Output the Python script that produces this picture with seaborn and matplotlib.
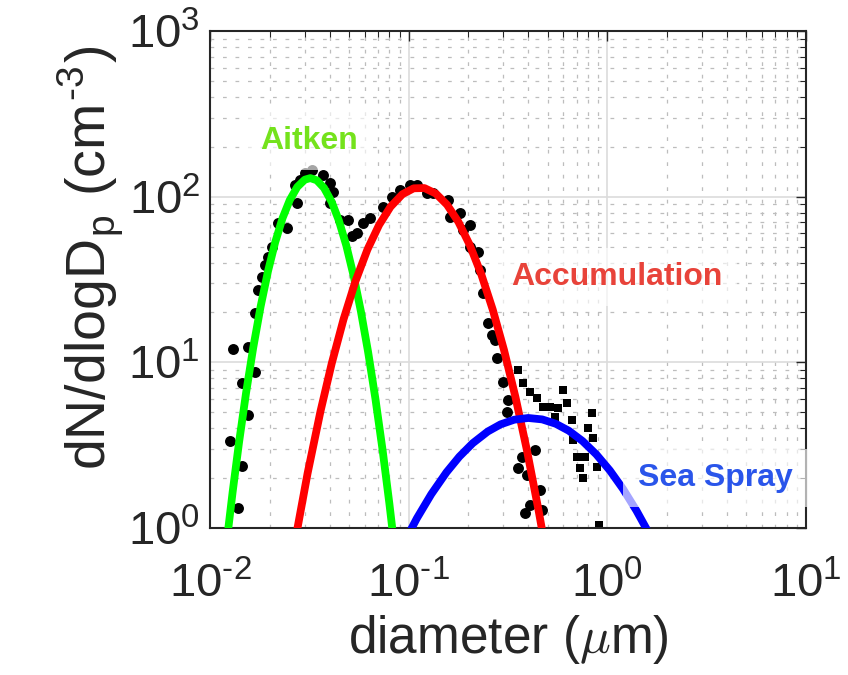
import matplotlib
matplotlib.use("Agg")
import matplotlib.pyplot as plt
import seaborn as sns
import pandas as pd
from matplotlib.ticker import LogLocator, NullFormatter, FuncFormatter
import math

# Measured number size distribution (mobility sizer: circles, optical counter: squares)
circle_diam = [0.0126, 0.01305, 0.0138, 0.0145, 0.0145, 0.0155, 0.0155, 0.0168, 0.0168,
               0.0174, 0.0183, 0.0189, 0.0196, 0.0205, 0.0220, 0.0244, 0.0268, 0.0274,
               0.0284, 0.0301, 0.0326, 0.0371, 0.0402, 0.0402, 0.0416, 0.0451, 0.0495,
               0.0520, 0.0549, 0.0589, 0.0639, 0.0743, 0.0824, 0.0904, 0.1015, 0.1101,
               0.1236, 0.1325, 0.1577, 0.1614, 0.1812, 0.1876, 0.2035, 0.2035, 0.2233,
               0.2285, 0.2365, 0.2506, 0.2625, 0.2718, 0.2782, 0.2983, 0.3124, 0.3160,
               0.3549, 0.3717, 0.3849, 0.3938, 0.4078, 0.4322, 0.4579, 0.4688]
circle_conc = [3.35, 12.0, 1.32, 2.37, 7.5, 4.81, 12.4, 8.74, 19.8,
               27.3, 32.7, 38.7, 43.2, 49.6, 69.3, 64.6, 117.5, 91.5,
               126.0, 138.8, 144.7, 135.0, 120.8, 91.5, 106.6, 72.2, 72.2,
               57.8, 60.3, 69.3, 74.3, 86.5, 99.5, 109.6, 117.5, 117.5,
               105.1, 105.1, 95.4, 75.3, 79.6, 62.9, 67.4, 49.6, 46.3,
               36.1, 26.2, 17.3, 14.6, 13.6, 10.6, 7.61, 5.01, 5.92,
               2.30, 2.68, 1.23, 2.09, 1.38, 2.96, 1.70, 1.28]

square_diam = [0.3549, 0.3760, 0.4078, 0.4420, 0.4741, 0.5141, 0.5448, 0.5642, 0.5979,
               0.6262, 0.6635, 0.6713, 0.7030, 0.7278, 0.7539, 0.7716, 0.7987, 0.8366,
               0.8462, 0.8863, 0.9073]
square_conc = [8.98, 7.50, 6.62, 6.09, 5.37, 5.37, 4.68, 5.30, 6.80,
               5.68, 4.48, 3.40, 2.68, 2.30, 2.00, 2.68, 4.01, 4.94,
               3.49, 2.33, 1.04]

# Fitted lognormal modes, tabulated
aitken_diam = [0.0121, 0.0130, 0.0140, 0.0152, 0.0165, 0.0180, 0.0196, 0.0213, 0.0232,
               0.0252, 0.0275, 0.0300, 0.0320, 0.0345, 0.0375, 0.0410, 0.0445, 0.0485,
               0.0530, 0.0575, 0.0625, 0.0680, 0.0740, 0.0800, 0.0860]
aitken_conc = [0.797, 1.644, 3.273, 6.56, 12.21, 21.81, 35.55, 53.1, 74.3,
               95.2, 114.4, 126.6, 129.4, 125.5, 112.9, 92.9, 72.0, 50.9,
               32.8, 20.3, 11.56, 6.05, 2.93, 1.40, 0.668]

accum_diam = [0.0265, 0.031, 0.036, 0.041, 0.047, 0.054, 0.062, 0.071, 0.081, 0.093,
              0.106, 0.120, 0.137, 0.156, 0.178, 0.203, 0.232, 0.265, 0.302, 0.345,
              0.394, 0.450, 0.490]
accum_conc = [0.772, 2.138, 5.065, 9.84, 18.15, 30.9, 47.9, 67.5, 86.8, 103.4,
              112.3, 112.7, 104.4, 89.4, 70.4, 51.1, 34.0, 20.8, 11.86, 6.15,
              2.94, 1.29, 0.731]

spray_diam = [0.094, 0.11, 0.13, 0.155, 0.18, 0.21, 0.25, 0.29, 0.34, 0.40,
              0.47, 0.55, 0.64, 0.75, 0.88, 1.03, 1.2, 1.4, 1.6, 1.74]
spray_conc = [0.799, 1.144, 1.600, 2.168, 2.697, 3.247, 3.821, 4.22, 4.505, 4.613,
              4.523, 4.257, 3.863, 3.349, 2.781, 2.223, 1.719, 1.275, 0.954, 0.783]

# Mode labels: text, diameter, concentration (baseline), colour
mode_labels = ["Aitken", "Accumulation", "Sea Spray"]
label_diam = [0.0317, 1.12, 3.48]
label_conc = [193.8, 29.3, 1.79]
label_colors = ["#74e21c", "#e8433a", "#2a55ea"]

sns.set_theme(style="white")
plt.rcParams["font.family"] = ["Liberation Sans", "DejaVu Sans"]
plt.rcParams["mathtext.fontset"] = "cm"
dark = "#262626"
HYPHEN = "\u2010"


def decade_label(value, pos):
    exp = int(round(math.log10(value)))
    s = str(abs(exp))
    if exp < 0:
        s = HYPHEN + s
    return r"$\mathdefault{10^{%s}}$" % s


fig, ax = plt.subplots(figsize=(8.48, 6.75), dpi=100)
fig.subplots_adjust(left=0.2476, right=0.9505, bottom=0.2178, top=0.9541)
ax.set_xscale("log")
ax.set_yscale("log")

circles = pd.DataFrame({"diameter": circle_diam, "conc": circle_conc})
squares = pd.DataFrame({"diameter": square_diam, "conc": square_conc})
sns.scatterplot(data=circles, x="diameter", y="conc", marker="o", s=62,
                color="black", linewidth=0, ax=ax, zorder=2)
sns.scatterplot(data=squares, x="diameter", y="conc", marker="s", s=38,
                color="black", linewidth=0, ax=ax, zorder=2)

for d, c, col in [(aitken_diam, aitken_conc, "#00ff00"),
                  (accum_diam, accum_conc, "#ff0000"),
                  (spray_diam, spray_conc, "#0000ff")]:
    sns.lineplot(x=d, y=c, color=col, lw=5.6, sort=False, estimator=None,
                 ax=ax, zorder=3)

for txt, d, c, col in zip(mode_labels, label_diam, label_conc, label_colors):
    ax.text(d, c, txt, color=col, fontsize=23, fontweight="bold",
            ha="center", va="baseline", zorder=6, clip_on=False,
            bbox=dict(boxstyle="square,pad=0.45", fc="white", ec="none", alpha=0.65))

ax.set_xlim(1e-2, 1e1)
ax.set_ylim(1e0, 1e3)
for axis in (ax.xaxis, ax.yaxis):
    axis.set_major_locator(LogLocator(base=10, numticks=10))
    axis.set_major_formatter(FuncFormatter(decade_label))
    axis.set_minor_locator(LogLocator(base=10, subs=range(2, 10), numticks=20))
    axis.set_minor_formatter(NullFormatter())

ax.grid(which="major", color="#dcdcdc", lw=1.2, ls="-", zorder=0)
ax.grid(which="minor", color="#bdbdbd", lw=0.9, ls=(0, (3, 7)), zorder=0)
ax.set_axisbelow(True)

ax.tick_params(which="both", direction="in", top=True, right=True, colors=dark)
ax.tick_params(which="major", length=7, width=1.0, labelsize=34)
ax.tick_params(axis="x", which="major", pad=25)
ax.tick_params(axis="y", which="major", pad=7)
ax.tick_params(which="minor", length=4, width=0.8)
for sp in ax.spines.values():
    sp.set_color(dark)
    sp.set_linewidth(1.5)

ax.set_xlabel(r"diameter ($\mu$m)", fontsize=37, color=dark, labelpad=4)
ax.set_ylabel(r"dN/dlogD$_\mathdefault{p}$ (cm$^\mathdefault{%s3}$)" % HYPHEN,
              fontsize=40, color=dark)
ax.yaxis.set_label_coords(-0.143, 0.544)

fig.savefig("out.png", dpi=100)
